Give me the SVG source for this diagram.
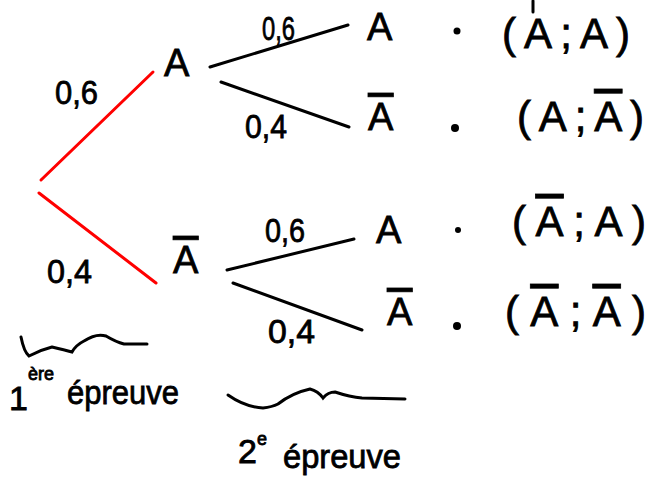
<svg xmlns="http://www.w3.org/2000/svg" width="650" height="486" viewBox="0 0 650 486">
<style>
text{font-family:"Liberation Sans","DejaVu Sans",sans-serif;fill:#000;stroke:#000;stroke-width:0.8}
.lbl{font-size:34px}
.nd{font-size:38px}
.tp{font-size:42px}
.bar{text-decoration:overline}
.red{stroke:#ff0000;stroke-width:3;stroke-linecap:round;fill:none}
.blk{stroke:#000;stroke-width:3;stroke-linecap:round;fill:none}
.cap{font-size:34px}
</style>
<rect width="650" height="486" fill="#fff"/>
<g id="connectors">
<line class="red" x1="41" y1="180" x2="153" y2="72"/>
<line class="red" x1="39" y1="193" x2="156" y2="283"/>
<line class="blk" x1="210" y1="67" x2="348" y2="25"/>
<line class="blk" x1="221" y1="82" x2="349" y2="127"/>
<line class="blk" x1="227" y1="270" x2="354" y2="239"/>
<line class="blk" x1="233" y1="283" x2="362" y2="330"/>
<text class="lbl" x="55" y="104" textLength="43" lengthAdjust="spacingAndGlyphs">0,6</text>
<text class="lbl" x="47" y="283" textLength="45" lengthAdjust="spacingAndGlyphs">0,4</text>
<text class="lbl" x="262" y="40" font-size="28" textLength="33" lengthAdjust="spacingAndGlyphs">0,6</text>
<text class="lbl" x="245" y="138" textLength="42" lengthAdjust="spacingAndGlyphs">0,4</text>
<text class="lbl" x="265" y="242" textLength="40" lengthAdjust="spacingAndGlyphs">0,6</text>
<text class="lbl" x="268" y="343" textLength="47" lengthAdjust="spacingAndGlyphs">0,4</text>
</g>
<g id="node-A1"><text class="nd" x="164" y="76">A</text></g>
<g id="node-Abar1"><text class="nd" x="173" y="273"><tspan class="bar">A</tspan></text></g>
<g id="leaf-1">
<text class="nd" x="367" y="40">A</text>
<circle cx="457" cy="31" r="3.5"/>
<line class="blk" x1="533" y1="1" x2="533" y2="12"/>
<text class="tp" x="502" y="48" textLength="128" lengthAdjust="spacing">(A;A)</text>
</g>
<g id="leaf-2">
<text class="nd" x="368" y="130"><tspan class="bar">A</tspan></text>
<circle cx="455" cy="128" r="4"/>
<text class="tp" x="517" y="131" textLength="127" lengthAdjust="spacing">(A;<tspan class="bar">A</tspan>)</text>
</g>
<g id="leaf-3">
<text class="nd" x="376" y="243">A</text>
<circle cx="458" cy="230" r="3"/>
<text class="tp" x="512" y="236" textLength="134" lengthAdjust="spacing">(<tspan class="bar">A</tspan>;A)</text>
</g>
<g id="leaf-4">
<text class="nd" x="387" y="325"><tspan class="bar">A</tspan></text>
<circle cx="457" cy="326" r="4"/>
<text class="tp" x="505" y="326" textLength="141" lengthAdjust="spacing">(<tspan class="bar">A</tspan>;<tspan class="bar">A</tspan>)</text>
</g>
<g id="brace-1">
<path class="blk" d="M21 337 Q24 352 29 356 Q40 350 52 347 Q65 350 72 352 Q76 345 84 341 Q96 333 106 336 Q116 342 124 344 L147 344"/>
<text class="cap" x="9" y="410">1<tspan font-size="18" dy="-30">ère</tspan></text>
<text class="cap" x="67" y="404" textLength="112" lengthAdjust="spacingAndGlyphs">épreuve</text>
</g>
<g id="brace-2">
<path class="blk" d="M228 395 Q245 407 263 408 Q272 407 278 404 Q292 393 310 389 Q318 391 323 398 Q328 392 335 392 Q350 397 362 398 L405 399"/>
<text class="cap" x="238" y="463">2<tspan font-size="18" dy="-18">e</tspan></text>
<text class="cap" x="283" y="468" textLength="118" lengthAdjust="spacingAndGlyphs">épreuve</text>
</g>
</svg>
